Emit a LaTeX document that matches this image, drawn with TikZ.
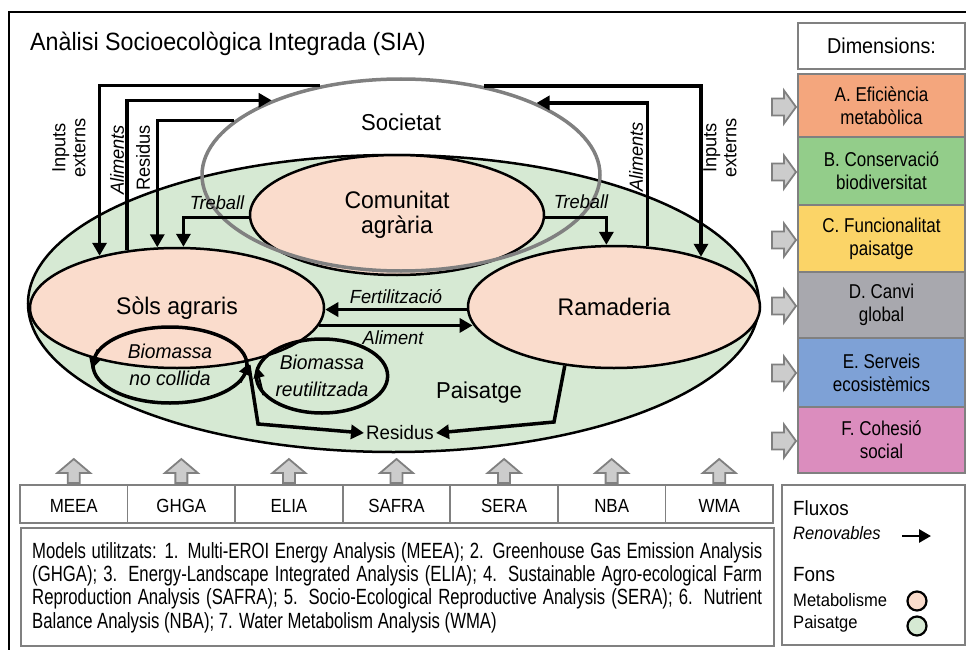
\documentclass[tikz,border=0pt]{standalone}
\usepackage{fontspec}
\setmainfont[FakeStretch=0.96]{Liberation Sans}
\newfontfamily\ftitle[FakeStretch=0.93]{Liberation Sans}
\newfontfamily\fleg[FakeStretch=0.92]{Liberation Sans}
\newfontfamily\fcell[FakeStretch=0.89]{Liberation Sans}
\newfontfamily\fdim[FakeStretch=0.85]{Liberation Sans}
\newfontfamily\fmod[FakeStretch=0.76]{Liberation Sans}
\usetikzlibrary{arrows.meta,shapes.geometric}
\definecolor{fgreen}{RGB}{214,233,211}
\definecolor{fpink}{RGB}{250,220,204}
\definecolor{lgray}{RGB}{128,128,128}
\definecolor{agray}{RGB}{204,204,204}
\definecolor{dimA}{RGB}{244,166,125}
\definecolor{dimB}{RGB}{147,205,138}
\definecolor{dimC}{RGB}{251,212,103}
\definecolor{dimD}{RGB}{168,168,174}
\definecolor{dimE}{RGB}{126,161,214}
\definecolor{dimF}{RGB}{219,141,190}
\tikzset{
  fon/.style={ellipse, draw=black, line width=2.5pt, inner sep=0pt},
  bio/.style={ellipse, draw=black, line width=3.5pt, inner sep=0pt, align=center,
    font=\itshape\fontsize{20}{27}\selectfont},
  flow/.style={line width=3.5pt, -{Triangle[length=13pt,width=14pt]}},
  bigtxt/.style={font=\fontsize{24}{25}\selectfont, align=center},
  lab/.style={font=\fontsize{19}{20}\selectfont, align=center, inner sep=0pt},
  ilab/.style={font=\itshape\fontsize{19}{20}\selectfont, align=center, inner sep=0pt},
  cell/.style={draw=lgray, line width=1.8pt, minimum width=107.57pt, minimum height=38pt,
    inner sep=0pt, text height=17pt, text depth=0pt, font=\fcell\fontsize{19}{22}\selectfont},
  dimbox/.style={draw=lgray, line width=1.8pt, minimum width=167pt, inner sep=0pt,
    align=center, font=\fdim\fontsize{20}{23}\selectfont},
  garr/.style={draw=lgray, fill=agray, line width=1.8pt, line join=miter},
  uparr/.pic={\draw[garr] (-6,12) -- (-6,2) -- (-16.5,2) -- (0,-12) -- (16.5,2) -- (6,2) -- (6,12) -- cycle;},
  rtarr/.pic={\draw[garr] (-12,-8.5) -- (0,-8.5) -- (0,-16.5) -- (12,0) -- (0,16.5) -- (0,8.5) -- (-12,8.5) -- cycle;}
}
\begin{document}
\begin{tikzpicture}[x=1pt,y=-1pt]
\useasboundingbox (0,0) rectangle (966,650);
% frame
\draw[line width=2.5pt] (967,12) -- (9,12) -- (9,651);
\node[anchor=base west, inner sep=0pt, font=\ftitle\fontsize{25}{30}\selectfont] (title) at (30,51) {Anàlisi Socioecològica Integrada (SIA)};

% funds
\node[fon, fill=fgreen, minimum width=731pt, minimum height=297pt] (pais) at (393.5,303.5) {};
\node[fon, fill=fpink, minimum width=294pt, minimum height=120pt, bigtxt] (sols) at (177,308) {Sòls agraris};
\node[fon, fill=fpink, minimum width=292pt, minimum height=122pt, bigtxt] (ram) at (614,307) {Ramaderia};
\node[fon, fill=fpink, minimum width=294pt, minimum height=120pt, bigtxt] (com) at (397,215) {Comunitat\\agrària};
\node[bio, minimum width=154pt, minimum height=76pt] (bnc) at (170,365) {\raisebox{-3pt}{\parbox{100pt}{\centering Biomassa\\no collida}}};
\node[bio, minimum width=116pt, minimum height=74pt] (bre) at (322,376) {Biomassa\\reutilitzada};
\node[ellipse, draw=lgray, line width=3.5pt, inner sep=0pt, minimum width=398pt, minimum height=192pt] (soc) at (401,175) {};
\node[bigtxt, font=\fontsize{23}{25}\selectfont] (soctxt) at (401,122) {Societat};
\node[bigtxt, font=\fontsize{23}{25}\selectfont] (paistxt) at (479,393) {Paisatge};
\node[font=\fontsize{19.5}{20}\selectfont, inner sep=2pt] (res) at (400,433) {Residus};

% cyclic arrowheads on biomass
\draw[line width=2pt, -{Triangle[length=11pt,width=11pt]}] (bnc.168) -- (bnc.183);
\draw[line width=2pt, -{Triangle[length=11pt,width=11pt]}] (bnc.-14) -- (bnc.1);
\draw[line width=2pt, -{Triangle[length=11pt,width=11pt]}] (bre.198) -- (bre.172);

% flows
\draw[flow] (soc.132) -| (sols.146);
\draw[flow] (sols.131) |- (soc.150);
\draw[flow] (soc.162) -| (sols.108);
\draw[flow] (com.181) -| (sols.84);
\draw[flow] (com.-1) -| (ram.97);
\draw[flow] (ram.61) |- (soc.28);
\draw[flow] (soc.47) -| (ram.30);
\draw[flow] (ram.181) -- (ram.181 -| sols.east);
\draw[flow] (sols.-7) -- (sols.-7 -| ram.187);
\coordinate (rb1) at (258,424);
\coordinate (rb2) at (554,422);
\draw[flow, line join=miter] (bnc.east) -- (rb1) -- (res.west);
\draw[flow, line join=miter] (ram.230) -- (rb2) -- (res.east);

% flow labels
\node[lab, rotate=90] (ie1) at (69,148) {Inputs\\externs};
\node[ilab, rotate=90] (al1) at (117,160) {Aliments};
\node[lab, rotate=90] (rs1) at (143,158) {Residus};
\node[ilab] (tr1) at (217,203) {Treball};
\node[ilab] (tr2) at (581,202) {Treball};
\node[ilab, rotate=90] (al2) at (636,157) {Aliments};
\node[lab, rotate=90] (ie2) at (720,148) {Inputs\\externs};
\node[ilab] (fer) at (396,297) {Fertilització};
\node[ilab] (ali) at (393,338) {Aliment};

% dimensions
\node[dimbox, fill=white, minimum height=46pt, font=\fleg\fontsize{21.5}{23}\selectfont] (dimh) at (881.5,46) {Dimensions:};
\node[dimbox, fill=dimA, minimum height=63pt] (dA) at (881.5,105.5) {A. Eficiència\\metabòlica};
\node[dimbox, fill=dimB, minimum height=68pt] (dB) at (881.5,171) {B. Conservació\\biodiversitat};
\node[dimbox, fill=dimC, minimum height=67pt] (dC) at (881.5,238.5) {C. Funcionalitat\\paisatge};
\node[dimbox, fill=dimD, minimum height=66pt] (dD) at (881.5,305) {D. Canvi\\global};
\node[dimbox, fill=dimE, minimum height=69pt] (dE) at (881.5,372.5) {E. Serveis\\ecosistèmics};
\node[dimbox, fill=dimF, minimum height=66pt] (dF) at (881.5,440) {F. Cohesió\\social};
\foreach \yy in {107,172,240,306,373,441} { \pic at (784,\yy) {rtarr}; }

% models
\foreach \i/\t in {1/MEEA,2/GHGA,3/ELIA,4/SAFRA,5/SERA,6/NBA,7/WMA} {
  \node[cell] (m\i) at ({20+107.571*(\i-0.5)},504) {\t};
  \pic at ({20+107.571*(\i-0.5)},471) {uparr};
}
\node[draw=lgray, line width=1.8pt, minimum width=753pt, minimum height=118pt, anchor=north west, inner sep=0pt] (modbox) at (20,527) {};
\node[anchor=base west, inner sep=0pt] (modtxt) at (32,558) {\parbox[t]{730pt}{\fmod\fontsize{22}{23.4}\selectfont\hyphenpenalty=10000 Models utilitzats: 1. Multi-EROI Energy Analysis (MEEA); 2. Greenhouse Gas Emission Analysis\linebreak (GHGA); 3. Energy-Landscape Integrated Analysis (ELIA); 4. Sustainable Agro-ecological Farm\linebreak Reproduction Analysis (SAFRA); 5. Socio-Ecological Reproductive Analysis (SERA); 6. Nutrient\linebreak Balance Analysis (NBA); 7. Water Metabolism Analysis (WMA)}};

% legend
\node[draw=lgray, line width=1.8pt, minimum width=183pt, minimum height=160pt, anchor=north west, inner sep=0pt] (leg) at (781,484) {};
\node[anchor=west, inner sep=0pt, font=\fleg\fontsize{20.5}{22}\selectfont] (lflux) at (793,508) {Fluxos};
\node[anchor=west, inner sep=0pt, font=\fleg\itshape\fontsize{18}{20}\selectfont] (lren) at (793,533) {Renovables};
\coordinate (la1) at (902,536);
\coordinate (la2) at (931,536);
\draw[line width=2.8pt, -{Triangle[length=12pt,width=13pt]}] (la1) -- (la2);
\node[anchor=west, inner sep=0pt, font=\fleg\fontsize{20.5}{22}\selectfont] (lfons) at (793,575) {Fons};
\node[anchor=west, inner sep=0pt, font=\fleg\fontsize{18}{20}\selectfont] (lmet) at (793,600) {Metabolisme};
\node[anchor=west, inner sep=0pt, font=\fleg\fontsize{18}{20}\selectfont] (lpai) at (793,624) {Paisatge};
\node[circle, draw=black, line width=2.2pt, fill=fpink, minimum size=19pt, inner sep=0pt] (cmet) at (917,601) {};
\node[circle, draw=black, line width=2.2pt, fill=fgreen, minimum size=19pt, inner sep=0pt] (cpai) at (917,626) {};
\end{tikzpicture}
\end{document}
